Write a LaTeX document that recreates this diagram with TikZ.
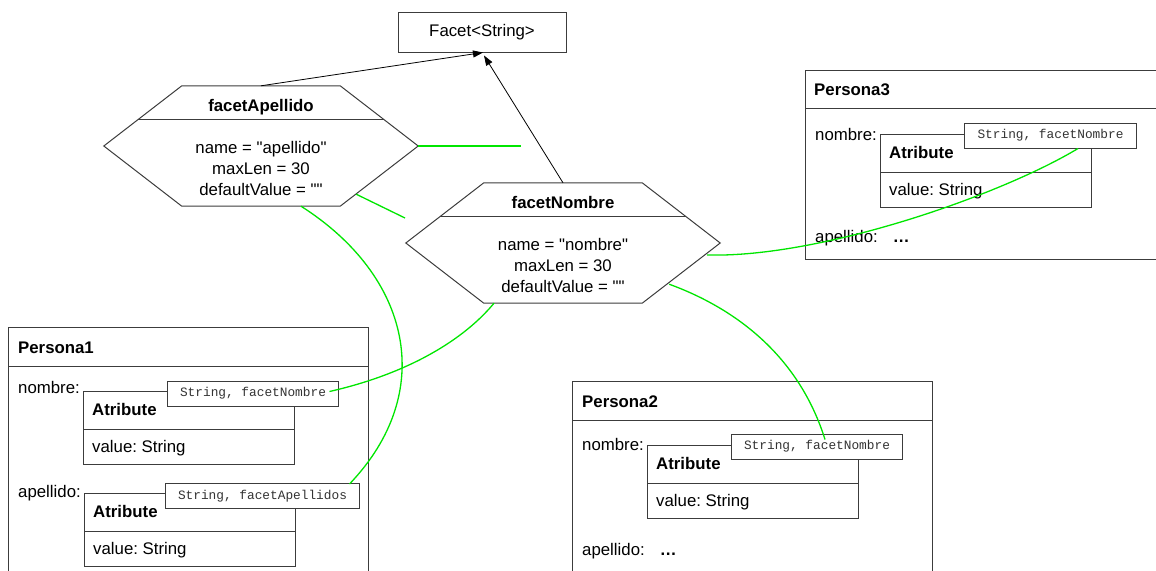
\documentclass[tikz,border=0pt]{standalone}
\usepackage{fontspec}
\setmainfont{Liberation Sans}
\setmonofont{Liberation Mono}
\usepackage{tikz}
\usetikzlibrary{arrows.meta}
\usetikzlibrary{calc}
\definecolor{linkgreen}{RGB}{0,230,0}
\definecolor{edgegray}{RGB}{60,60,60}
\frenchspacing

\tikzset{
  box/.style={draw=edgegray, line width=1pt},
  note/.style={draw=edgegray, fill=white, line width=1pt, text=black!80,
    font=\ttfamily\fontsize{12.8}{15}\selectfont,
    inner xsep=13pt, inner ysep=0pt, minimum height=25pt},
  hexface/.style={minimum width=314pt, minimum height=120pt, inner sep=0pt},
  lbl/.style={anchor=base west, inner sep=0pt},
  inherit/.style={draw=black, line width=0.8pt, -{Triangle[length=10pt,width=7pt]}},
  link/.style={draw=linkgreen, line width=1.3pt},
}

\begin{document}
\begin{tikzpicture}[x=1pt, y=-1pt, font=\fontsize{16.8}{21}\selectfont]
\useasboundingbox (0,0) rectangle (1156,570);
\clip (0,0) rectangle (1156,570);

\node[box, minimum width=168pt, minimum height=40pt] (facet) at (482,32) {Facet<String>};

% facetas
\node[hexface] (ap) at (261,146) {};
\node[hexface] (no) at (563,243) {};
\foreach \h in {ap,no} {
  \draw[box] ([xshift=78pt]\h.north west) -- ([xshift=-78pt]\h.north east) -- (\h.east)
    -- ([xshift=-78pt]\h.south east) -- ([xshift=78pt]\h.south west) -- (\h.west) -- cycle;
  \draw[box] ([shift={(34,34)}]\h.north west) -- ([shift={(-34,34)}]\h.north east);
}
\node[anchor=base] (apTitle) at (261,111) {\textbf{facetApellido}};
\node[align=center] (apBody) at (261,168.5)
  {name = \textquotedbl apellido\textquotedbl\\maxLen = 30\\defaultValue = \textquotedbl\textquotedbl};
\node[anchor=base] (noTitle) at (563,208) {\textbf{facetNombre}};
\node[align=center] (noBody) at (563,265.5)
  {name = \textquotedbl nombre\textquotedbl\\maxLen = 30\\defaultValue = \textquotedbl\textquotedbl};

\draw[inherit] (ap.north) -- ([xshift=1pt]facet.south);
\draw[inherit] (no.north) -- ([shift={(2,3)}]facet.south);

% personas
\draw[box] (8,327) rectangle (368,600);
\draw[box] (8,366) -- (368,366);
\node[lbl] (p1) at (18,353) {\textbf{Persona1}};
\node[lbl] (p1nombre) at (18,393) {nombre:};
\node[lbl] (p1apellido) at (18,497) {apellido:};

\draw[box] (572,381) rectangle (932,600);
\draw[box] (572,420) -- (932,420);
\node[lbl] (p2) at (582,407) {\textbf{Persona2}};
\node[lbl] (p2nombre) at (582,450) {nombre:};
\node[lbl] (p2apellido) at (582,555) {apellido:\hspace{15pt}\textbf{\dots}};

\draw[box] (805,70) rectangle (1170,259);
\draw[box] (805,108) -- (1170,108);
\node[lbl] (p3) at (814,95) {\textbf{Persona3}};
\node[lbl] (p3nombre) at (815,140) {nombre:};
\node[lbl] (p3apellido) at (815,242) {apellido:\hspace{15pt}\textbf{\dots}};

\foreach \x/\y [count=\i] in {83/391, 84/493, 647/445, 880/134} {
  \draw[box] (\x,\y) rectangle ++(211,73);
  \draw[box] (\x,\y+38) -- ++(211,0);
  \node[lbl] (attr\i) at (\x+9,\y+24) {\textbf{Atribute}};
  \node[lbl] (val\i) at (\x+9,\y+61) {value: String};
}

\node[note] (nNombre1) at (253,393.5) {String, facetNombre};
\node[note] (nApellido1) at (262.5,496) {String, facetApellidos};
\node[note] (nNombre2) at (817,446.5) {String, facetNombre};
\node[note] (nNombre3) at (1050.5,135.5) {String, facetNombre};

% enlaces
\coordinate (stubA) at (521,146);
\coordinate (stubB) at (405,218);
\draw[link] (ap.east) -- (stubA);
\draw[link] ([shift={(-62,-12)}]ap.south east) -- (stubB);
\draw[link] ([xshift=40pt]ap.south) .. controls +(110,70) and +(88,-92) .. ([shift={(-11,1)}]nApellido1.north east);
\draw[link] ([xshift=-69pt]no.south) .. controls +(-34,41) and +(71,-16) .. ([shift={(-10,-2)}]nNombre1.east);
\draw[link] ([shift={(-51,-19)}]no.south east) .. controls +(71,26) and +(-25,-80) .. ([shift={(8,6)}]nNombre2.north);
\draw[link] ([shift={(-13,12)}]no.east) .. controls +(113,3) and +(-78,47) .. ([xshift=27.5pt]nNombre3.south);
\end{tikzpicture}
\end{document}
